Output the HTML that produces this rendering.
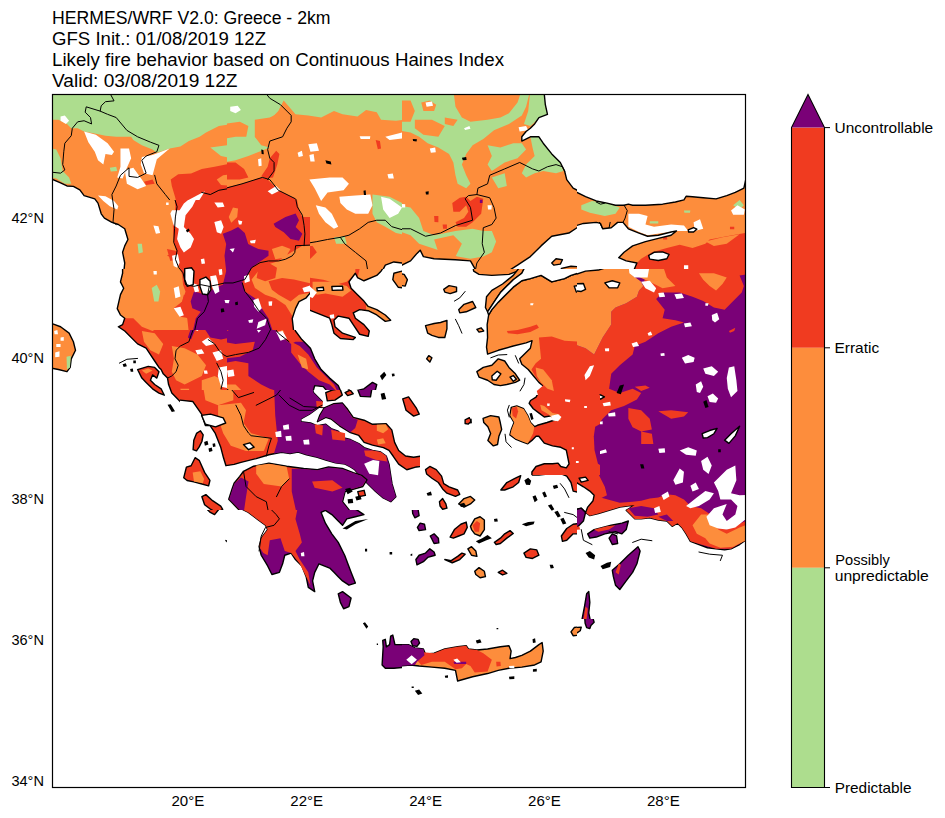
<!DOCTYPE html>
<html><head><meta charset="utf-8">
<style>
html,body{margin:0;padding:0;background:#fff;width:945px;height:818px;overflow:hidden}
svg{position:absolute;left:0;top:0}
#map path{vector-effect:non-scaling-stroke;stroke-width:1.4px}
#map path[fill="none"]{stroke-width:1px}
text{font-family:"Liberation Sans",sans-serif;fill:#000}
</style></head><body>
<svg width="945" height="818" viewBox="0 0 945 818">
<g font-size="17.5">
<text x="52" y="24.4" textLength="278.5" lengthAdjust="spacingAndGlyphs">HERMES/WRF V2.0: Greece - 2km</text>
<text x="52" y="45.2" textLength="214" lengthAdjust="spacingAndGlyphs">GFS Init.: 01/08/2019 12Z</text>
<text x="52" y="66" textLength="452" lengthAdjust="spacingAndGlyphs">Likely fire behavior based on Continuous Haines Index</text>
<text x="52" y="86.6" textLength="185.5" lengthAdjust="spacingAndGlyphs">Valid: 03/08/2019 12Z</text>
</g>
<g font-size="14.5">
<text x="11.4" y="222.7" textLength="32.5" lengthAdjust="spacingAndGlyphs">42°N</text>
<text x="11.4" y="363.4" textLength="32.5" lengthAdjust="spacingAndGlyphs">40°N</text>
<text x="11.4" y="504.1" textLength="32.5" lengthAdjust="spacingAndGlyphs">38°N</text>
<text x="11.4" y="644.8" textLength="32.5" lengthAdjust="spacingAndGlyphs">36°N</text>
<text x="11.4" y="785.5" textLength="32.5" lengthAdjust="spacingAndGlyphs">34°N</text>
<text x="171.4" y="805.6" textLength="32.8" lengthAdjust="spacingAndGlyphs">20°E</text>
<text x="290.3" y="805.6" textLength="32.8" lengthAdjust="spacingAndGlyphs">22°E</text>
<text x="409.2" y="805.6" textLength="32.8" lengthAdjust="spacingAndGlyphs">24°E</text>
<text x="528.1" y="805.6" textLength="32.8" lengthAdjust="spacingAndGlyphs">26°E</text>
<text x="647" y="805.6" textLength="32.8" lengthAdjust="spacingAndGlyphs">28°E</text>
<text x="834.5" y="133.2" textLength="98.7" lengthAdjust="spacingAndGlyphs">Uncontrollable</text>
<text x="834.5" y="353.2" textLength="44.7" lengthAdjust="spacingAndGlyphs">Erratic</text>
<text x="835.3" y="565.2" textLength="54.4" lengthAdjust="spacingAndGlyphs">Possibly</text>
<text x="834.7" y="581.3" textLength="94.1" lengthAdjust="spacingAndGlyphs">unpredictable</text>
<text x="834.7" y="793" textLength="76.9" lengthAdjust="spacingAndGlyphs">Predictable</text>
</g>
<!-- colorbar -->
<rect x="791.5" y="127.6" width="33" height="220.2" fill="#f03b20"/>
<rect x="791.5" y="347.8" width="33" height="220" fill="#fd8d3c"/>
<rect x="791.5" y="567.8" width="33" height="219.8" fill="#addd8e"/>
<path d="M791.5 127.6 L808 94.4 L824.5 127.6 Z" fill="#7a0177"/>
<path d="M791.5 787.5 L791.5 127.6 L808 94.4 L824.5 127.6 L824.5 787.5 Z" fill="none" stroke="#000" stroke-width="1.1"/>
<path d="M824.5 127.6h5.5M824.5 347.8h5.5M824.5 567.8h5.5M824.5 787.5h5.5" stroke="#000" stroke-width="1"/>
<!-- MAP -->
<svg id="map" x="52.5" y="94.5" width="693" height="693" viewBox="52.5 94.5 693 693" overflow="hidden">
<defs>
<clipPath id="c00"><rect x="52.0" y="94.0" width="175.0" height="175.0"/></clipPath>
<clipPath id="c10"><rect x="227.0" y="94.0" width="175.0" height="175.0"/></clipPath>
<clipPath id="c20"><rect x="402.0" y="94.0" width="175.0" height="175.0"/></clipPath>
<clipPath id="c30"><rect x="577.0" y="94.0" width="175.0" height="175.0"/></clipPath>
<clipPath id="c01"><rect x="52.0" y="269.0" width="175.0" height="175.0"/></clipPath>
<clipPath id="c11"><rect x="227.0" y="269.0" width="175.0" height="175.0"/></clipPath>
<clipPath id="c21"><rect x="402.0" y="269.0" width="175.0" height="175.0"/></clipPath>
<clipPath id="c31"><rect x="577.0" y="269.0" width="175.0" height="175.0"/></clipPath>
<clipPath id="c02"><rect x="52.0" y="444.0" width="175.0" height="175.0"/></clipPath>
<clipPath id="c12"><rect x="227.0" y="444.0" width="175.0" height="175.0"/></clipPath>
<clipPath id="c22"><rect x="402.0" y="444.0" width="175.0" height="175.0"/></clipPath>
<clipPath id="c32"><rect x="577.0" y="444.0" width="175.0" height="175.0"/></clipPath>
<clipPath id="c03"><rect x="52.0" y="619.0" width="175.0" height="175.0"/></clipPath>
<clipPath id="c13"><rect x="227.0" y="619.0" width="175.0" height="175.0"/></clipPath>
<clipPath id="c23"><rect x="402.0" y="619.0" width="175.0" height="175.0"/></clipPath>
<clipPath id="c33"><rect x="577.0" y="619.0" width="175.0" height="175.0"/></clipPath>
</defs>
<g stroke-linejoin="round" stroke-linecap="round">
<g clip-path="url(#c00)"><g transform="translate(52.000,94.000) scale(0.213936)"><rect x="-20" y="-20" width="858" height="858" fill="#fd8d3c"/>
<path fill="#addd8e" d="M-20,-20 L838,-20 L838,140 L780,150 L720,180 L690,200 L640,220 L600,245 L550,255 L490,275 L470,260 L420,240 L380,215 L370,200 L300,200 L250,195 L200,185 L150,175 L120,160 L90,160 L70,140 L30,120 L-20,120 Z"/>
<path fill="#addd8e" d="M-20,250 L20,260 L40,300 L50,360 L80,390 L90,420 L60,420 L20,395 L-20,390 Z M740,250 L818,240 L838,240 L838,300 L790,290 Z M270,345 L300,340 L305,360 L275,362 Z M400,700 L420,700 L425,740 L405,745 Z"/>
<path fill="#f03b20" d="M555,400 L590,375 L650,372 L700,350 L760,340 L838,325 L838,838 L590,838 L590,760 L540,760 L570,740 L580,720 L600,700 L600,640 L580,600 L590,540 L575,480 L560,430 Z M430,410 L470,400 L480,420 L440,425 Z"/>
<path fill="#fd8d3c" d="M770,400 L800,380 L838,375 L838,430 L790,425 Z"/>
<path fill="#7a0177" d="M790,585 L818,580 L838,580 L838,610 L800,600 Z M800,650 L838,640 L838,690 L805,680 Z M800,760 L838,740 L838,810 L805,800 Z"/>
<path fill="#fff" d="M40,105 L60,100 L80,125 L65,140 L40,125 Z M150,175 L205,190 L260,230 L290,270 L280,285 L250,280 L240,330 L215,310 L200,270 L170,225 Z M320,255 L360,255 L370,300 L350,345 L330,395 L305,390 L320,340 Z M340,355 L380,345 L420,400 L440,430 L400,445 L350,420 Z M420,295 L470,285 L550,255 L490,305 L470,380 L430,370 L415,330 Z M560,545 L620,505 L715,455 L680,510 L650,560 L660,620 L650,700 L620,740 L600,720 L590,660 L570,620 Z M480,620 L500,615 L505,650 L485,655 Z M760,600 L800,595 L805,640 L780,650 Z M215,475 L250,478 L290,500 L310,525 L305,540 L270,525 L240,500 Z"/>
<path fill="#fff" stroke="#000" d="M-20,395 L0,398 L40,415 L70,430 L100,432 L130,448 L150,475 L200,490 L215,510 L230,560 L245,580 L280,600 L310,610 L340,630 L355,680 L340,710 L330,740 L340,790 L335,838 L-20,838 Z"/>
<path fill="none" stroke="#000" d="M270,-5 L290,32 L250,36 L230,55 L225,80 L260,95 L300,110 L350,170 L400,200 L460,225 L500,240 L490,270 L440,290 L420,310 L440,370 L400,390 L360,385 L360,345 L320,380 L300,430 L280,470 L290,540 L285,600 L300,610 M225,80 L160,60 L155,85 L180,110 L185,140 L150,125 L120,130 L95,160 L90,195 L60,230 L55,270 L50,330 L60,355 L40,370 L-5,365 M480,380 L490,420 L530,470 L570,520 L590,560 L580,600 L570,640 L580,700 L590,760 L580,838 M700,460 L740,470 L780,450 L838,440"/>
</g></g>
<g clip-path="url(#c10)"><g transform="translate(227.000,94.000) scale(0.213936)"><rect x="-20" y="-20" width="858" height="858" fill="#fd8d3c"/>
<path fill="#addd8e" d="M-20,-20 L838,-20 L838,120 L790,125 L720,120 L700,85 L650,75 L610,105 L540,95 L500,80 L440,110 L380,100 L320,95 L290,60 L265,30 L240,80 L215,105 L160,140 L130,200 L160,240 L200,250 L150,270 L100,290 L40,310 L-20,320 Z M680,470 L760,480 L818,510 L838,520 L838,660 L790,650 L740,620 L700,600 L680,560 Z M500,670 L550,665 L560,700 L510,700 Z"/>
<path fill="#fd8d3c" d="M-20,140 L60,130 L100,150 L90,200 L40,200 L-20,210 Z M130,120 L200,110 L240,90 L250,60 L270,45 L300,100 L260,150 L240,180 L160,230 L130,200 Z"/>
<path fill="#f03b20" d="M-20,440 L70,420 L160,390 L190,400 L240,450 L320,490 L350,540 L360,600 L365,700 L330,720 L300,745 L250,770 L200,780 L160,790 L140,838 L-20,838 Z M-20,320 L40,320 L80,350 L100,390 L60,400 L-20,400 Z M200,300 L230,265 L245,280 L235,330 L215,390 L180,395 L160,385 L190,340 Z M330,710 L400,710 L420,740 L390,770 L340,760 Z M695,215 L715,220 L720,255 L705,258 Z"/>
<path fill="#fd8d3c" d="M10,540 L50,530 L45,590 L15,600 Z M200,720 L260,700 L300,720 L270,760 L210,770 Z"/>
<path fill="#7a0177" d="M-20,650 L40,620 L60,650 L100,650 L150,660 L180,700 L205,740 L170,780 L120,810 L100,838 L-20,838 Z M220,600 L270,580 L300,560 L330,570 L350,590 L355,640 L340,680 L300,690 L270,650 L230,625 Z"/>
<path fill="#fff" d="M385,400 L480,390 L540,390 L570,420 L545,450 L470,460 L440,500 L410,440 Z M525,480 L600,475 L670,470 L680,520 L660,560 L600,560 L560,540 L530,510 Z M415,520 L460,530 L490,560 L520,620 L500,630 L460,600 L430,560 Z M720,480 L760,490 L818,530 L800,560 L760,580 L730,540 Z M380,235 L420,230 L430,265 L390,270 Z M385,285 L405,280 L410,315 L390,315 Z M330,275 L350,265 L355,290 L335,295 Z M740,200 L800,185 L838,175 L838,205 L760,215 Z M620,198 L670,198 L668,210 L625,210 Z M15,60 L50,55 L65,75 L40,90 L15,80 Z M190,455 L230,430 L250,450 L210,470 Z M145,305 L160,300 L162,335 L148,338 Z M750,375 L775,372 L780,395 L755,395 Z"/>
<path fill="#fff" stroke="#000" d="M720,838 L740,800 L780,785 L818,790 L838,795 L838,838 Z"/>
<path fill="#000" d="M160,260 L170,262 L172,282 L162,280 Z M460,310 L485,315 L488,330 L465,325 Z M638,452 L648,450 L650,472 L640,472 Z"/>
<path fill="none" stroke="#000" d="M180,-5 L200,20 L250,50 L280,80 L300,100 L300,130 L280,160 L260,200 L200,220 L190,260 L200,300 L220,320 L220,360 L190,400 M-5,440 L70,420 L165,390 L200,400 L240,450 L320,490 L350,530 L360,580 L360,700 L320,710 L310,750 L280,770 L240,780 L200,790 L130,800 L100,838 M360,700 L420,690 L470,680 L530,670 L570,660 L620,630 L660,600 L700,590 L740,590 L770,620 L838,640 M530,670 L550,700 L600,740 L650,780 L660,838"/>
</g></g>
<g clip-path="url(#c20)"><g transform="translate(402.000,94.000) scale(0.213936)"><rect x="-20" y="-20" width="858" height="858" fill="#fd8d3c"/>
<path fill="#addd8e" d="M-20,-20 L240,-20 L250,60 L280,110 L320,130 L400,120 L460,110 L500,90 L540,40 L560,-20 L600,-20 L580,60 L560,100 L500,140 L430,170 L380,210 L330,240 L300,280 L280,330 L300,380 L320,420 L300,440 L260,420 L250,380 L240,320 L220,280 L170,250 L120,230 L80,200 L40,180 L-20,170 Z M600,-20 L665,-20 L670,60 L680,95 L640,115 L600,150 L570,140 L590,80 Z M600,200 L640,200 L700,280 L740,320 L755,360 L720,370 L660,360 L620,370 L580,390 L560,370 L580,330 L620,290 L610,250 Z M420,390 L480,370 L490,430 L450,440 Z M400,240 L460,250 L520,230 L560,230 L580,260 L540,300 L480,320 L420,360 L400,330 L420,290 Z M-20,520 L40,530 L80,580 L100,640 L150,660 L250,640 L330,630 L380,640 L420,640 L440,690 L420,740 L380,760 L320,770 L260,760 L200,740 L140,720 L80,700 L40,660 L-20,640 Z"/>
<path fill="#fd8d3c" d="M-20,30 L40,30 L60,80 L40,130 L-20,130 Z M90,40 L130,30 L160,50 L150,80 L100,80 Z M60,120 L140,120 L200,150 L170,200 L100,190 L60,160 Z M200,110 L260,120 L240,150 L200,140 Z M150,680 L240,660 L280,700 L250,760 L170,740 Z"/>
<path fill="#f03b20" d="M235,510 L270,485 L300,480 L320,500 L350,480 L380,490 L370,560 L330,600 L300,620 L260,620 L250,600 L290,580 L310,550 L300,520 L270,550 L240,550 Z M150,570 L170,570 L170,600 L152,598 Z M190,610 L210,610 L210,630 L192,630 Z"/>
<path fill="#7a0177" d="M364,494 L376,494 L376,510 L364,510 Z"/>
<path fill="#fff" d="M110,40 L140,35 L145,55 L115,60 Z M290,160 L315,150 L320,162 L295,168 Z M130,255 L155,250 L158,272 L135,275 Z M545,155 L580,150 L590,170 L550,175 Z M-20,512 L15,515 L15,530 L-20,530 Z M400,520 L420,520 L418,540 L402,540 Z"/>
<path fill="#fff" stroke="#000" d="M665,-20 L665,0 L670,50 L680,95 L640,110 L620,140 L600,160 L580,175 L560,200 L560,220 L600,200 L640,200 L660,230 L700,280 L740,320 L760,360 L770,400 L800,440 L838,460 L838,-20 Z M-20,838 L-20,810 L0,800 L40,780 L70,745 L85,730 L100,760 L150,770 L250,775 L320,780 L340,815 L345,838 Z M480,838 L540,800 L600,760 L650,710 L700,665 L780,650 L818,625 L838,620 L838,838 Z"/>
<path fill="#fd8d3c" stroke="#000" d="M700,790 L720,770 L750,775 L740,795 L710,800 Z M745,815 L790,805 L838,808 L838,838 L745,838 Z"/>
<path fill="#000" d="M50,210 L70,212 L68,222 L52,220 Z M280,298 L300,294 L302,308 L284,310 Z M110,457 L125,455 L124,470 L112,470 Z"/>
<path fill="none" stroke="#000" d="M-5,630 L40,630 L110,665 L180,650 L250,615 L330,590 L320,530 L295,490 L310,475 L350,470 L410,485 L430,530 L440,580 L420,610 L380,625 L375,700 L385,740 L350,790 L340,838 M350,470 L355,440 L400,420 L410,380 L480,350 L550,320 L610,350 L640,360 L680,340 L720,330 L750,340 L760,360"/>
</g></g>
<g clip-path="url(#c30)"><g transform="translate(577.000,94.000) scale(0.213936)"><rect x="-20" y="-20" width="858" height="858" fill="#fd8d3c"/>
<path fill="#addd8e" d="M20,520 L70,500 L140,510 L200,530 L180,560 L130,570 L60,555 L20,540 Z M730,520 L760,495 L780,520 L760,540 Z M500,545 L530,545 L528,555 L502,555 Z M340,595 L380,595 L380,605 L340,605 Z"/>
<path fill="#f03b20" d="M260,838 L280,790 L300,770 L350,740 L420,720 L480,705 L540,720 L600,700 L620,680 L700,665 L785,650 L838,640 L838,838 Z M400,660 L420,658 L422,680 L402,680 Z M715,620 L735,620 L735,632 L715,632 Z"/>
<path fill="#fd8d3c" d="M600,690 L680,670 L760,655 L700,700 L640,710 Z"/>
<path fill="#fff" d="M240,560 L290,560 L330,570 L320,610 L360,620 L440,610 L500,615 L520,640 L470,640 L400,650 L330,660 L290,645 L240,620 Z M545,600 L575,585 L590,630 L550,640 Z M720,545 L750,520 L785,540 L780,565 L730,565 Z M500,800 L520,800 L520,818 L500,818 Z"/>
<path fill="#fff" stroke="#000" d="M-20,-20 L838,-20 L838,390 L790,395 L780,440 L740,460 L700,475 L650,490 L590,485 L540,480 L510,478 L500,495 L460,505 L400,515 L320,520 L260,520 L240,515 L220,520 L180,520 L140,510 L90,500 L40,480 L0,460 L-20,455 Z M-20,620 L30,605 L90,600 L110,605 L120,630 L160,625 L190,600 L215,600 L240,630 L290,650 L330,665 L380,660 L440,645 L465,640 L440,660 L380,675 L320,690 L260,710 L220,740 L195,765 L230,780 L280,790 L260,838 L-20,838 Z M335,755 L360,740 L400,738 L430,750 L420,770 L380,778 L340,772 Z M520,635 L545,625 L560,632 L545,645 L522,645 Z"/>
<path fill="none" stroke="#000" d="M220,520 L235,545 L225,580 L215,600 M90,505 L110,515 L130,510 M120,630 L105,600 M150,625 L155,600"/>
</g></g>
<g clip-path="url(#c01)"><g transform="translate(52.000,269.000) scale(0.213936)"><rect x="-20" y="-20" width="858" height="858" fill="#f03b20"/>
<path fill="#fd8d3c" d="M300,-20 L660,-20 L660,60 L620,90 L600,110 L620,160 L600,200 L560,230 L520,260 L470,290 L420,270 L380,230 L340,230 L300,240 Z M560,360 L620,370 L680,400 L720,450 L700,500 L660,520 L620,540 L580,520 L560,480 L570,420 Z M420,290 L480,300 L520,350 L500,400 L460,380 L430,340 Z M700,520 L760,500 L800,520 L780,600 L740,640 L700,620 Z M600,560 L640,560 L650,600 L610,610 Z M740,560 L770,570 L760,620 L730,610 Z"/>
<path fill="#addd8e" d="M465,80 L490,70 L510,100 L500,150 L485,160 L470,120 Z"/>
<path fill="#7a0177" d="M640,210 L690,150 L740,110 L800,40 L838,30 L838,320 L790,330 L740,320 L720,290 L690,250 L670,280 L650,330 L635,320 L655,260 Z"/>
<path fill="#fff" d="M565,90 L580,80 L600,110 L595,140 L570,135 Z M570,185 L600,180 L620,210 L600,222 L575,210 Z M470,12 L492,10 L492,25 L472,25 Z M620,-20 L660,-20 L665,60 L640,70 L620,40 Z M690,50 L720,40 L745,80 L740,130 L700,120 L680,90 Z M740,30 L780,35 L785,60 L750,62 Z M665,230 L690,220 L700,270 L680,290 L660,280 Z M700,340 L730,320 L760,350 L720,360 Z M670,380 L700,375 L712,395 L680,400 Z M750,390 L790,380 L800,420 L770,430 Z M780,460 L838,450 L838,560 L790,550 L775,500 Z M710,475 L725,475 L728,490 L712,490 Z M770,0 L800,0 L800,25 L775,25 Z"/>
<path fill="#fff" stroke="#000" d="M700,690 L740,680 L800,680 L838,700 L800,725 L740,730 L700,720 Z M700,790 L730,770 L760,800 L740,838 L700,838 Z"/>
<path fill="#fff" stroke="#000" d="M330,-20 L330,20 L320,60 L335,90 L320,120 L305,185 L320,215 L340,230 L330,260 L310,270 L340,290 L400,350 L440,370 L460,400 L480,430 L500,460 L510,470 L520,490 L540,510 L545,540 L560,580 L600,620 L640,650 L680,670 L700,700 L710,740 L690,770 L670,800 L670,838 L-20,838 L-20,-20 Z"/>
<path fill="#f03b20" stroke="#000" d="M400,470 L450,455 L480,460 L500,480 L490,510 L470,495 L460,520 L480,540 L510,560 L525,590 L500,580 L470,560 L440,530 L420,510 Z"/>
<path fill="#fd8d3c" d="M420,475 L450,465 L470,475 L440,490 Z"/>
<path fill="#fd8d3c" stroke="#000" d="M-20,250 L0,255 L40,270 L80,300 L100,340 L110,380 L90,420 L85,460 L70,480 L30,470 L-20,460 Z"/>
<path fill="#addd8e" d="M68,410 L88,405 L84,460 L70,470 Z"/>
<path fill="#fff" d="M10,290 L25,285 L28,305 L12,305 Z M40,320 L55,318 L55,335 L40,335 Z M15,390 L35,385 L35,410 L15,412 Z M20,350 L40,350 L40,365 L20,365 Z"/>
<path fill="#000" d="M330,445 L345,440 L350,455 L335,458 Z M365,468 L378,465 L380,480 L368,480 Z M540,635 L555,632 L575,665 L560,668 Z M380,428 L392,428 L392,440 L380,440 Z"/>
<path fill="none" stroke="#000" d="M315,440 L350,422 L400,418 M605,-5 L620,20 L640,60 L660,80 L700,110 L740,130 L760,150 L740,170 L720,200 L700,210 L680,240 L665,270 L650,310 L640,340 L600,360 L580,380 L575,420 L590,450 L580,480 L560,500 L540,510 M680,-20 L690,40 L720,80 L745,110 M730,330 L760,350 L780,380 L800,400 L838,420 M770,440 L790,480 L800,520 L790,560"/>
</g></g>
<g clip-path="url(#c11)"><g transform="translate(227.000,269.000) scale(0.213936)"><rect x="-20" y="-20" width="858" height="858" fill="#7a0177"/>
<path fill="#f03b20" d="M90,-20 L838,-20 L838,340 L320,340 L300,350 L260,320 L220,280 L190,230 L150,170 L120,100 L100,40 Z M-20,340 L40,350 L130,340 L120,380 L60,410 L-20,420 Z M-20,440 L40,430 L100,440 L100,500 L160,540 L200,560 L260,580 L300,620 L330,660 L300,680 L250,700 L200,720 L180,760 L140,838 L-20,838 Z M300,340 L340,360 L380,400 L420,460 L460,500 L500,540 L520,580 L480,540 L430,520 L380,480 L340,440 L300,390 Z M400,720 L450,740 L520,760 L600,790 L640,838 L400,838 Z M620,700 L700,720 L838,740 L838,838 L620,838 Z M0,200 L20,210 L18,280 L0,290 Z"/>
<path fill="#fd8d3c" d="M140,30 L230,20 L280,-20 L600,-20 L600,20 L560,60 L520,70 L450,50 L380,40 L300,40 L260,70 L240,100 L200,90 L150,70 Z M100,80 L150,60 L200,110 L230,150 L210,190 L240,250 L270,300 L230,270 L190,220 L150,170 L120,120 Z M400,60 L480,60 L560,80 L580,100 L540,130 L460,115 L420,120 L400,100 Z M-20,540 L40,540 L80,580 L100,640 L150,680 L120,740 L60,760 L-20,760 Z M700,740 L780,750 L838,760 L838,838 L700,838 Z M330,400 L370,420 L380,470 L350,460 Z M620,0 L740,-20 L720,10 L700,30 L640,55 L610,40 Z M650,160 L700,185 L765,240 L740,250 L690,210 L650,190 Z"/>
<path fill="#fff" d="M130,135 L160,140 L170,190 L150,195 L130,170 Z M78,-20 L100,-20 L98,50 L80,48 Z M140,285 L175,250 L180,262 L148,298 Z M230,295 L260,290 L280,325 L250,335 Z M340,95 L380,75 L420,110 L400,135 L360,120 Z M480,215 L500,212 L502,230 L482,232 Z M0,475 L30,470 L35,500 L5,505 Z M260,730 L290,725 L292,760 L262,760 Z M230,760 L250,755 L255,790 L235,790 Z M270,780 L295,775 L300,810 L275,812 Z M200,150 L215,148 L218,170 L202,170 Z M100,235 L120,238 L112,250 Z M300,690 L320,685 L322,700 L302,702 Z"/>
<path fill="#fff" stroke="#000" d="M838,-20 L740,-20 L720,10 L700,30 L640,55 L610,40 L600,20 L570,60 L580,90 L610,120 L640,150 L660,175 L700,190 L740,215 L765,240 L740,245 L700,215 L660,195 L620,190 L590,205 L600,230 L640,260 L665,290 L660,315 L620,305 L590,260 L570,230 L520,220 L500,240 L505,270 L540,300 L600,320 L590,330 L530,325 L500,300 L490,260 L480,230 L430,210 L380,190 L360,170 L380,140 L370,120 L340,130 L330,160 L310,175 L300,200 L310,240 L320,290 L350,330 L390,370 L410,420 L440,470 L480,510 L520,545 L535,580 L510,610 L470,610 L475,580 L450,550 L410,545 L400,580 L430,610 L470,640 L560,650 L640,690 L720,720 L780,740 L838,745 Z M350,705 L380,690 L430,700 L480,712 L540,735 L590,760 L625,800 L605,815 L560,792 L500,762 L440,735 L380,722 Z M420,88 L450,85 L452,100 L422,102 Z M490,82 L540,80 L542,98 L492,100 Z"/>
<path fill="#fd8d3c" stroke="#000" d="M780,20 L818,10 L838,10 L838,90 L800,85 L775,50 Z"/><path fill="#f03b20" stroke="#000" d="M550,575 L570,565 L590,580 L570,595 L552,592 Z"/>
<path fill="#7a0177" stroke="#000" d="M600,570 L640,560 L680,530 L700,540 L690,580 L650,600 L615,600 Z"/>
<path fill="#000" d="M715,500 L735,480 L745,495 L725,520 Z M770,490 L782,488 L784,500 L772,502 Z M800,655 L812,655 L812,668 L800,668 Z M700,595 L715,590 L718,605 L702,608 Z M730,580 L740,578 L742,600 L732,602 Z M40,155 L52,152 L50,168 L40,168 Z"/>
<path fill="none" stroke="#000" d="M110,-5 L80,50 L100,110 L130,150 L160,210 L210,260 L240,300 L290,340 M-5,410 L40,400 L100,390 L150,370 L180,330 L200,290 L210,270 M-5,560 L30,580 L60,620 L100,630 L140,640 L190,620 L240,590 L270,600 L310,640 L350,650 L420,650 L450,660 M40,680 L70,720 L100,760 L110,838 M240,590 L230,640 L200,680 L180,720 L170,780 L160,838"/>
</g></g>
<g clip-path="url(#c21)"><g transform="translate(402.000,269.000) scale(0.213936)"><rect x="-20" y="-20" width="858" height="858" fill="#fff"/>
<g fill="#fd8d3c" stroke="#000">
<path d="M330,-20 L560,-20 L540,10 L500,25 L420,30 L360,25 L335,10 Z"/>
<path d="M560,-20 L580,-20 L560,20 L520,50 L490,80 L460,110 L440,140 L420,170 L400,200 L390,180 L395,130 L420,100 L470,70 L520,30 Z"/>
<path d="M838,15 L790,30 L760,45 L700,60 L650,30 L600,45 L560,55 L520,85 L480,125 L450,155 L420,190 L405,215 L398,260 L400,320 L395,365 L400,398 L450,380 L520,360 L580,345 L608,335 L600,370 L575,395 L550,420 L560,445 L590,470 L615,500 L640,530 L665,550 L645,585 L615,610 L625,640 L660,670 L700,680 L730,690 L710,705 L670,710 L640,730 L620,710 L600,690 L590,720 L610,760 L640,800 L660,838 L838,838 Z"/>
<path d="M350,480 L380,460 L420,450 L450,420 L480,430 L500,460 L530,490 L550,520 L530,530 L490,540 L460,545 L430,540 L400,520 L360,505 Z"/>
<path d="M110,265 L150,255 L180,250 L210,240 L210,280 L200,320 L170,320 L140,310 L120,300 Z"/>
<path d="M195,95 L220,78 L255,85 L255,105 L225,115 L200,108 Z"/>
<path d="M265,190 L290,165 L330,152 L345,180 L300,200 L270,205 Z"/>
<path d="M350,282 L370,275 L382,290 L360,295 Z"/>
<path d="M115,420 L125,405 L140,415 L130,435 Z"/>
<path d="M-20,20 L10,25 L25,50 L15,80 L-20,75 Z"/>
<path d="M380,700 L420,685 L460,695 L470,740 L450,780 L430,838 L400,838 L390,760 L380,720 Z"/>
<path d="M510,650 L540,645 L570,670 L590,710 L600,740 L580,780 L560,838 L500,838 L520,780 L500,760 L490,720 L510,690 Z"/>
</g>
<path fill="#f03b20" d="M640,320 L700,315 L760,335 L838,340 L838,838 L660,838 L630,790 L610,760 L640,730 L680,710 L730,695 L690,660 L645,620 L630,570 L660,545 L625,505 L605,470 L625,440 L650,420 Z M490,290 L540,285 L600,270 L630,260 L640,275 L600,295 L540,305 L495,300 Z M515,655 L545,650 L575,690 L560,700 L530,690 Z"/>
<path fill="#fd8d3c" d="M625,460 L660,470 L700,520 L710,570 L680,560 L650,530 L630,500 Z"/>
<path fill="#fff" stroke="#000" d="M420,500 L445,478 L462,490 L440,520 L422,518 Z M505,505 L520,498 L535,515 L520,525 Z M580,-20 L838,-20 L838,15 L790,30 L760,45 L700,60 L650,30 L600,45 L560,55 L520,85 L480,125 L450,155 L420,190 L405,215 L400,200 L420,170 L440,140 L460,110 L490,80 L520,50 L560,20 Z M805,80 L838,75 L838,110 L815,108 Z"/>
<path fill="#f03b20" stroke="#000" d="M5,610 L30,620 L60,640 L75,665 L50,680 L20,660 L5,640 Z M295,705 L315,695 L325,710 L310,725 L295,722 Z"/>
<path fill="#fff" d="M600,160 L615,160 L612,170 L600,170 Z M750,600 L790,610 L780,625 L760,620 Z M720,670 L750,675 L745,700 L720,700 Z"/>
<path fill="none" stroke="#000" d="M245,150 L270,135 L295,105 M250,235 L265,265 L280,300 M415,415 L450,402 L490,400 M575,510 L570,540 L552,570 M500,640 L490,700 L485,760 L480,838 M530,405 L545,440"/>
</g></g>
<g clip-path="url(#c31)"><g transform="translate(577.000,269.000) scale(0.213936)"><rect x="-20" y="-20" width="858" height="858" fill="#7a0177"/>
<path fill="#f03b20" d="M-20,350 L40,370 L80,400 L100,360 L120,320 L160,260 L160,200 L180,180 L230,160 L280,130 L290,100 L310,80 L330,-20 L838,-20 L838,20 L760,30 L780,80 L770,110 L720,160 L690,190 L640,180 L590,150 L540,130 L480,110 L400,110 L370,140 L410,190 L400,230 L460,240 L500,250 L440,270 L380,300 L320,340 L270,360 L260,400 L200,450 L160,490 L150,560 L200,580 L260,560 L300,580 L280,610 L220,640 L160,660 L120,700 L90,740 L80,838 L-20,838 Z M240,650 L300,660 L340,700 L350,750 L300,760 L260,740 L240,700 Z M380,665 L440,660 L520,670 L500,690 L440,700 Z M270,550 L320,545 L340,555 L300,570 Z M300,760 L350,770 L360,838 L300,838 Z M710,290 L740,275 L735,290 L715,298 Z"/>
<path fill="#fd8d3c" d="M-20,-20 L240,-20 L260,30 L300,60 L310,80 L290,100 L280,130 L230,160 L180,180 L160,200 L160,260 L120,320 L100,360 L80,400 L40,370 L-20,350 Z M570,20 L640,20 L700,40 L680,70 L650,100 L620,80 L590,50 Z M250,20 L330,-20 L400,-20 L420,40 L460,80 L400,90 L340,60 Z"/>
<path fill="#fff" d="M240,-20 L340,-20 L330,40 L270,40 L245,20 Z M300,60 L340,55 L370,90 L360,110 L320,90 Z M380,112 L405,110 L412,130 L385,132 Z M455,118 L490,115 L500,135 L465,140 Z M630,215 L655,205 L665,235 L645,250 L632,240 Z M500,255 L530,250 L537,268 L505,272 Z M255,348 L280,340 L290,360 L262,365 Z M330,300 L345,292 L352,308 L335,312 Z M390,395 L408,393 L410,405 L392,407 Z M490,415 L520,402 L550,415 L545,435 L505,442 Z M590,465 L630,455 L660,480 L640,500 L600,490 Z M710,460 L735,455 L745,520 L750,570 L720,600 L705,560 L700,510 Z M555,540 L580,525 L590,550 L575,580 L560,575 Z M610,595 L635,582 L660,605 L650,625 L620,622 Z M35,495 L60,455 L80,450 L60,500 L40,520 Z M120,628 L155,620 L158,638 L125,642 Z M145,675 L178,670 L180,688 L148,690 Z M100,715 L120,712 L120,726 L102,726 Z M130,372 L150,370 L150,385 L132,385 Z M600,160 L615,160 L612,172 L600,172 Z"/>
<path fill="#fff" stroke="#000" d="M-20,30 L40,10 L100,5 L180,-20 L-20,-20 Z M130,65 L165,55 L200,65 L190,88 L150,88 Z M-20,70 L30,68 L40,95 L20,105 L-20,100 Z M90,598 L110,588 L128,598 L110,608 Z M585,770 L620,755 L655,745 L640,770 L610,788 L590,790 Z M690,800 L720,770 L760,735 L740,780 L710,815 Z"/>
<path fill="#000" d="M185,580 L200,545 L220,540 L205,585 Z M590,620 L605,612 L615,645 L600,650 Z"/>
</g></g>
<g clip-path="url(#c02)"><g transform="translate(52.000,444.000) scale(0.213936)"><rect x="-20" y="-20" width="858" height="858" fill="#fff"/>
<path fill="#f03b20" stroke="#000" d="M615,160 L630,110 L650,100 L665,60 L680,70 L690,120 L720,140 L740,165 L740,190 L700,190 L660,180 L640,170 Z M685,55 L700,50 L720,90 L715,110 L700,100 L685,80 Z M700,245 L715,235 L730,255 L760,270 L790,290 L800,300 L780,305 L760,330 L740,320 L720,300 L700,275 Z M655,30 L670,0 L710,-20 L838,-20 L838,120 L810,110 L800,80 L790,50 L770,30 L740,35 L710,30 L680,30 Z"/>
<path fill="#fd8d3c" d="M655,145 L690,140 L720,165 L730,188 L690,185 L665,170 Z"/>
<path fill="#000" d="M695,25 L708,25 L708,38 L695,38 Z M728,45 L740,45 L740,58 L728,58 Z M808,448 L820,450 L815,460 Z"/>
</g></g>
<g clip-path="url(#c12)"><g transform="translate(227.000,444.000) scale(0.213936)"><rect x="-20" y="-20" width="858" height="858" fill="#fff"/>
<path fill="#7a0177" stroke="#000" d="M-20,-20 L838,-20 L838,130 L810,120 L800,170 L790,210 L780,240 L760,250 L740,230 L700,200 L680,160 L640,170 L600,180 L560,175 L520,190 L490,175 L470,165 L440,150 L400,130 L360,110 L330,60 L300,40 L260,40 L200,60 L130,80 L60,100 L-20,95 Z"/>
<path fill="#f03b20" d="M-20,-20 L300,-20 L290,40 L260,40 L200,60 L130,80 L60,100 L-20,95 Z M640,30 L700,25 L740,40 L760,80 L760,140 L730,120 L690,100 L650,60 Z"/>
<path fill="#fd8d3c" d="M130,-20 L220,-20 L210,20 L150,30 Z"/>
<path fill="#fff" d="M640,90 L700,80 L720,130 L700,180 L660,170 L640,130 Z M600,-20 L838,-20 L838,20 L780,40 L720,10 L640,10 Z"/>
<path fill="#7a0177" stroke="#000" d="M0,230 L20,210 L60,180 L70,140 L120,130 L170,100 L230,85 L300,120 L350,130 L420,150 L470,175 L500,190 L530,220 L540,260 L570,290 L610,310 L640,330 L600,340 L560,350 L540,380 L520,360 L490,330 L460,310 L440,320 L460,370 L490,420 L520,460 L550,520 L580,600 L600,650 L570,660 L540,640 L520,620 L500,600 L480,580 L430,560 L410,600 L400,640 L410,690 L380,670 L370,620 L350,570 L320,540 L300,510 L270,520 L260,560 L245,600 L210,610 L190,570 L160,520 L150,480 L160,440 L190,400 L180,380 L140,350 L100,320 L60,300 L20,260 Z M520,700 L540,690 L580,720 L570,760 L545,770 L530,740 Z"/>
<path fill="#f03b20" d="M70,180 L70,140 L120,130 L170,100 L230,85 L300,120 L320,140 L310,200 L320,260 L330,300 L320,350 L340,420 L350,460 L320,500 L340,540 L380,600 L390,660 L370,620 L340,560 L300,510 L270,500 L250,440 L200,450 L190,520 L170,510 L150,480 L160,440 L190,400 L180,380 L140,350 L100,320 L60,300 L80,250 L100,190 Z M400,180 L450,175 L500,195 L530,220 L540,260 L500,240 L440,210 Z"/>
<path fill="#fd8d3c" d="M140,140 L200,100 L260,110 L290,140 L280,190 L300,220 L270,240 L240,230 L200,220 L170,210 L150,180 Z M190,240 L230,240 L230,260 L200,270 Z"/>
<path fill="#fff" d="M280,180 L295,175 L300,195 L282,198 Z M335,190 L350,185 L352,200 L338,202 Z M345,510 L360,505 L362,525 L347,525 Z"/>
<path fill="#f03b20" stroke="#000" d="M610,230 L640,220 L645,240 L625,252 Z"/>
<path fill="#000" d="M560,210 L575,205 L578,220 L562,222 Z M580,240 L595,235 L598,250 L582,252 Z M560,260 L575,255 L578,270 L562,272 Z M600,265 L615,262 L618,278 L602,280 Z M740,295 L755,292 L758,305 L742,308 Z M645,490 L655,490 L655,502 L645,502 Z M760,505 L772,505 L772,516 L760,516 Z M540,395 L600,360 L660,350 L600,375 L560,400 Z"/>
<path fill="none" stroke="#000" d="M190,240 L200,300 L230,330 L245,350 L220,380 L180,390 L160,430 L150,500 M200,240 L250,230 L300,220 L310,200"/>
</g></g>
<g clip-path="url(#c22)"><g transform="translate(402.000,444.000) scale(0.213936)"><rect x="-20" y="-20" width="858" height="858" fill="#fff"/>
<path fill="#f03b20" stroke="#000" d="M-20,60 L40,60 L75,65 L80,100 L70,130 L40,120 L10,125 L-20,120 Z M110,120 L130,105 L160,120 L185,150 L195,185 L220,200 L260,215 L270,235 L250,245 L210,230 L190,210 L170,180 L140,160 L115,140 Z M175,270 L190,255 L205,280 L210,300 L190,305 L178,290 Z M225,435 L245,400 L275,375 L300,365 L305,390 L290,420 L265,430 L240,440 Z M432,460 L460,440 L480,420 L505,405 L520,418 L490,440 L460,465 L440,470 Z M200,540 L230,545 L260,525 L280,510 L295,515 L270,540 L235,555 Z M450,600 L470,590 L490,605 L470,612 Z M570,510 L600,490 L630,495 L640,520 L610,535 L580,530 Z M462,215 L490,180 L530,160 L555,148 L545,180 L520,200 L480,215 Z M600,130 L640,100 L700,90 L730,100 L760,80 L770,40 L740,0 L660,-20 L838,-20 L838,230 L800,220 L790,180 L770,150 L720,130 L680,140 L640,145 L610,145 Z M745,430 L770,395 L800,375 L838,370 L838,420 L800,420 L770,450 L750,455 Z"/>
<path fill="#fd8d3c" stroke="#000" d="M265,280 L290,255 L320,245 L340,262 L320,280 L290,295 Z M320,385 L340,350 L365,340 L385,355 L385,400 L365,430 L340,420 L325,400 Z M308,490 L325,480 L345,500 L350,525 L325,520 Z M340,595 L360,578 L385,595 L390,620 L365,625 L345,610 Z M420,-20 L445,-20 L445,12 L425,10 Z"/>
<path fill="#f03b20" d="M330,380 L350,360 L365,370 L360,410 L340,410 Z"/>
<path fill="#7a0177" stroke="#000" d="M15,240 L30,220 L50,225 L50,255 L30,275 L18,265 Z M48,300 L60,280 L75,305 L80,335 L60,345 L50,325 Z M72,390 L85,370 L105,375 L110,400 L80,405 Z M132,430 L150,420 L170,440 L172,462 L150,465 L140,445 Z M65,540 L80,520 L110,510 L130,490 L150,505 L155,520 L120,530 L100,550 L70,565 Z"/>
<path fill="#7a0177" d="M50,80 L65,78 L68,100 L52,100 Z"/>
<path fill="#000" d="M655,228 L668,222 L678,245 L665,250 Z M682,288 L698,282 L712,305 L700,312 Z M712,318 L728,312 L742,338 L728,344 Z M740,350 L755,345 L768,372 L752,376 Z M572,170 L590,158 L604,172 L598,192 L580,190 Z M610,245 L624,240 L634,262 L620,272 Z M115,230 L135,222 L140,240 L120,242 Z M430,350 L445,348 L448,362 L432,364 Z M560,375 L590,365 L620,362 L615,375 L580,385 Z M345,455 L375,440 L400,425 L420,440 L395,450 L360,465 Z M40,515 L48,512 L48,522 L40,522 Z M690,565 L705,565 L710,580 L695,582 Z M705,195 L725,190 L730,205 L710,210 Z M-20,85 L5,85 L5,115 L-20,115 Z M270,280 L290,275 L300,290 L275,295 Z"/>
<path fill="none" stroke="#000" d="M740,185 L760,210 L780,250 M760,320 L800,330 L820,345 M490,0 L510,12"/>
</g></g>
<g clip-path="url(#c32)"><g transform="translate(577.000,444.000) scale(0.213936)"><rect x="-20" y="-20" width="858" height="858" fill="#fff"/>
<path fill="#7a0177" stroke="#000" d="M-20,-20 L838,-20 L838,450 L780,455 L760,470 L720,490 L690,495 L650,490 L610,485 L570,470 L530,455 L510,420 L490,390 L470,370 L445,385 L420,360 L380,355 L340,345 L300,350 L270,350 L250,330 L230,310 L270,285 L200,295 L150,310 L100,325 L60,335 L40,320 L50,295 L75,265 L80,240 L60,220 L30,200 L-20,170 Z"/>
<path fill="#f03b20" d="M-20,-20 L80,-20 L90,60 L100,140 L130,200 L140,240 L100,260 L60,280 L20,300 L-20,300 Z M60,240 L110,250 L200,275 L260,270 L300,265 L340,255 L380,250 L420,235 L460,240 L500,260 L530,290 L580,300 L610,320 L640,340 L660,380 L700,400 L740,380 L838,340 L838,450 L780,455 L720,490 L650,490 L580,470 L530,455 L510,420 L490,390 L470,370 L445,385 L420,360 L380,355 L340,345 L300,350 L270,350 L250,330 L230,310 L270,285 L200,295 L150,310 L100,325 L60,335 L40,320 L50,295 Z"/>
<path fill="#7a0177" d="M240,300 L300,290 L360,300 L380,330 L330,340 L270,335 Z M380,340 L420,330 L450,360 L420,360 Z"/>
<path fill="#fd8d3c" d="M540,380 L580,330 L610,330 L640,360 L660,400 L700,420 L760,390 L838,360 L838,450 L780,455 L730,480 L670,485 L620,465 L600,440 L560,420 Z"/>
<path fill="#fff" d="M640,180 L700,120 L740,100 L745,170 L720,230 L760,240 L838,235 L838,350 L790,350 L740,390 L700,400 L660,395 L620,380 L605,340 L640,300 L700,280 L680,330 L700,360 L740,330 L750,290 L720,260 L670,260 L660,220 Z M450,170 L480,115 L500,130 L495,180 L460,190 Z M510,290 L560,250 L600,220 L640,230 L620,260 L570,290 L530,300 Z M530,195 L555,180 L570,210 L540,222 Z M580,80 L610,60 L630,100 L615,140 L590,120 Z M480,30 L520,15 L560,30 L555,55 L510,50 Z M380,22 L410,20 L412,40 L385,42 Z M100,35 L135,25 L140,40 L105,48 Z M395,240 L425,222 L432,245 L405,262 Z M360,300 L385,290 L392,318 L365,322 Z M270,500 L282,498 L284,520 L272,522 Z"/>
<path fill="#fff" stroke="#000" d="M10,160 L40,155 L52,170 L20,178 Z M-20,170 L30,200 L60,220 L80,240 L75,265 L50,295 L40,320 L20,300 L-20,310 Z"/>
<path fill="#7a0177" stroke="#000" d="M-20,310 L20,300 L40,320 L30,360 L0,390 L-20,385 Z M50,420 L80,400 L120,390 L160,380 L210,370 L240,360 L230,400 L210,420 L180,410 L130,420 L90,435 L60,440 Z M150,440 L165,420 L185,430 L190,465 L165,470 Z M165,590 L200,560 L240,520 L285,480 L295,500 L280,560 L260,600 L230,640 L200,680 L180,660 L170,620 Z M20,838 L35,760 L45,700 L55,690 L60,740 L55,790 L65,838 Z"/>
<path fill="#f03b20" d="M180,600 L195,560 L205,565 L195,610 Z M80,400 L140,385 L180,380 L150,400 L100,410 Z M30,820 L40,760 L50,770 L45,818 Z M-20,390 L10,385 L15,400 L-20,402 Z"/>
<path fill="#000" d="M40,510 L60,500 L85,520 L80,540 L55,530 Z M110,570 L140,555 L160,550 L155,575 L120,585 Z M295,95 L310,95 L315,115 L300,115 Z M660,25 L672,25 L672,38 L660,38 Z"/>
<path fill="none" stroke="#000" d="M20,400 L30,450 L70,470 M150,410 L190,420 M260,460 L300,445 L350,452 M570,505 L620,515 L680,520 L670,545"/>
</g></g>
<g clip-path="url(#c03)"><g transform="translate(52.000,619.000) scale(0.213936)"><rect x="-20" y="-20" width="858" height="858" fill="#fff"/>
</g></g>
<g clip-path="url(#c13)"><g transform="translate(227.000,619.000) scale(0.213936)"><rect x="-20" y="-20" width="858" height="858" fill="#fff"/>
<path fill="#7a0177" stroke="#000" d="M725,215 L730,130 L728,100 L740,95 L745,130 L760,120 L765,80 L775,75 L785,120 L818,120 L838,120 L838,225 L780,230 L740,230 Z"/>
<path fill="#000" d="M635,20 L645,15 L660,35 L652,45 Z M700,115 L706,115 L706,121 L700,121 Z"/>
</g></g>
<g clip-path="url(#c23)"><g transform="translate(402.000,619.000) scale(0.213936)"><rect x="-20" y="-20" width="858" height="858" fill="#fff"/>
<path fill="#fd8d3c" stroke="#000" d="M-20,120 L30,120 L60,135 L100,140 L110,165 L150,160 L200,140 L260,130 L300,125 L310,140 L350,145 L400,140 L460,130 L500,125 L510,150 L505,185 L530,180 L560,170 L600,150 L640,120 L655,110 L660,150 L650,200 L620,215 L560,225 L500,230 L450,240 L400,255 L330,270 L260,290 L250,240 L200,230 L140,225 L80,220 L40,215 L-20,220 Z"/>
<path fill="#f03b20" d="M60,180 L100,155 L150,160 L200,140 L260,130 L300,125 L310,140 L350,145 L380,160 L420,190 L400,245 L340,250 L320,220 L300,210 L280,230 L250,235 L200,200 L140,200 L90,215 Z M440,200 L460,200 L462,220 L442,222 Z"/>
<path fill="#7a0177" d="M-20,120 L30,120 L60,135 L100,140 L105,170 L70,200 L60,215 L-20,220 Z M240,200 L300,200 L300,210 L245,210 Z"/>
<path fill="#fff" d="M20,190 L45,170 L70,190 L45,212 Z M240,190 L258,185 L275,202 L255,205 Z M500,220 L525,218 L525,230 L502,230 Z"/>
<path fill="#7a0177" stroke="#000" d="M42,105 L55,92 L75,95 L82,112 L70,128 L50,125 Z"/>
<path fill="#000" d="M60,335 L80,330 L95,348 L75,355 Z M345,100 L365,95 L372,110 L350,115 Z M200,265 L215,263 L215,275 L202,275 Z M500,270 L525,268 L525,280 L502,282 Z M612,235 L630,233 L630,245 L612,247 Z M442,42 L450,42 L450,48 L442,48 Z M610,95 L622,90 L625,110 L612,112 Z M45,315 L55,315 L55,322 L45,322 Z"/>
<path fill="#fd8d3c" stroke="#000" d="M790,60 L805,40 L838,35 L838,75 L800,78 Z"/>
</g></g>
<g clip-path="url(#c33)"><g transform="translate(577.000,619.000) scale(0.213936)"><rect x="-20" y="-20" width="858" height="858" fill="#fff"/>
<path fill="#7a0177" stroke="#000" d="M35,-20 L70,-20 L80,15 L65,30 L60,45 L45,40 L38,20 Z"/>
<path fill="#fd8d3c" stroke="#000" d="M-20,40 L20,38 L15,55 L0,65 L-20,62 Z"/>
</g></g>
<clipPath id="pp1"><rect x="180.0" y="390.0" width="240.0" height="120.0"/></clipPath>
<g clip-path="url(#pp1)"><g transform="translate(180.0,390.0) scale(0.253968)"><!-- 180 390 240 120 945 -->
<rect x="-20" y="-20" width="985" height="512" fill="#fff"/>
<path fill="#f03b20" stroke="#000" d="M-20,-20 L520,-20 L525,10 L560,45 L545,70 L510,95 L476,114 L476,125 L514,130 L541,141 L574,135 L595,152 L623,162 L650,190 L671,195 L704,211 L725,227 L758,238 L790,244 L812,260 L823,292 L828,325 L835,370 L850,420 L830,440 L800,425 L770,400 L740,370 L715,345 L688,314 L671,303 L650,292 L612,287 L574,276 L541,265 L498,255 L465,244 L433,250 L400,245 L350,255 L300,270 L240,285 L213,293 L181,298 L171,266 L160,224 L139,171 L118,139 L100,140 L85,95 L50,45 L0,40 L-20,40 Z"/>
<path fill="#fd8d3c" d="M90,-20 L210,-20 L210,40 L150,60 L100,40 Z M150,60 L240,50 L260,80 L250,130 L280,170 L350,190 L330,240 L260,240 L200,220 L170,170 L150,110 Z"/>
<path fill="#7a0177" d="M370,-20 L520,-20 L525,10 L560,45 L545,70 L510,95 L476,114 L476,125 L514,130 L541,141 L574,135 L595,152 L623,162 L650,190 L671,195 L704,211 L725,227 L758,238 L790,244 L812,260 L823,292 L828,325 L835,370 L850,420 L830,440 L800,425 L770,400 L740,370 L715,345 L688,314 L671,303 L650,292 L612,287 L574,276 L541,265 L498,255 L465,244 L433,250 L400,245 L370,250 L385,200 L375,100 Z"/>
<path fill="#f03b20" d="M530,135 L563,140 L560,179 L535,170 Z M595,157 L650,170 L650,200 L600,195 Z M536,43 L563,45 L560,70 L538,68 Z M725,238 L758,238 L790,244 L812,260 L815,282 L770,275 L730,260 Z"/>
<path fill="#fff" d="M725,290 L760,276 L785,280 L780,336 L745,330 Z M405,140 L428,135 L430,155 L408,157 Z M375,165 L398,160 L400,185 L378,185 Z M415,182 L438,180 L440,200 L418,200 Z M485,197 L508,195 L510,215 L488,215 Z"/>
<path fill="#fff" stroke="#000" d="M250,215 L275,208 L292,225 L270,235 Z M85,100 L120,95 L170,110 L180,130 L140,145 L100,135 Z"/>
<path fill="#f03b20" stroke="#000" d="M568,70 L606,54 L639,51 L660,76 L682,108 L725,119 L758,135 L812,133 L834,157 L845,206 L861,238 L888,260 L920,265 L960,258 L960,300 L931,303 L893,314 L861,292 L839,260 L823,238 L801,227 L758,217 L725,206 L704,179 L671,168 L628,141 L595,114 L574,108 L541,125 L550,100 Z"/>
<path fill="#7a0177" d="M543,123 L552,100 L568,72 L606,56 L639,53 L658,78 L680,110 L700,117 L690,150 L671,166 L628,139 L595,112 L574,106 Z"/>
<path fill="#fd8d3c" d="M775,137 L810,135 L820,155 L800,170 L775,160 Z M775,195 L800,190 L810,210 L780,215 Z"/>
<path fill="#f03b20" stroke="#000" d="M250,490 L238,478 L192,430 L205,390 L213,367 L235,340 L250,320 L290,300 L350,288 L420,300 L487,309 L541,314 L585,303 L639,309 L682,325 L715,336 L736,354 L720,380 L650,400 L640,440 L680,490 Z"/>
<path fill="#7a0177" d="M240,476 L194,430 L207,390 L215,368 L240,345 L270,360 L260,420 L252,476 Z M440,310 L487,311 L541,316 L585,305 L639,311 L682,327 L713,338 L733,354 L718,378 L650,398 L638,440 L678,490 L460,490 L440,400 Z"/>
<path fill="#fd8d3c" d="M300,297 L350,290 L420,302 L430,350 L400,380 L330,370 L300,330 Z"/>
<path fill="#f03b20" d="M520,360 L600,355 L640,385 L600,400 L530,385 Z"/>
<path fill="#f03b20" stroke="#000" d="M14.6,345.7 L25.2,303.6 L43.7,298.1 L59.5,266.6 L75.6,276.8 L96.9,324.4 L117.8,356.3 L112.6,377.6 L75.6,367 L54.3,361.9 L28,356.3 Z M86.2,420.1 L101.9,411.9 L128.4,435.9 L160.3,457.1 L168.1,470.1 L144.5,483.5 L117.8,467.8 L96.9,451.6 Z M51.6,234.7 L54.3,197.6 L65,170.9 L80.7,160.6 L91.3,176.4 L86.2,202.8 L75.6,224.1 L65,239.8 Z M700,400 L725,395 L730,415 L705,420 Z M574,10 L600,0 L630,-5 L639,20 L610,40 L580,43 Z M650,10 L670,0 L682,15 L660,22 Z M877,35 L900,27 L930,70 L942,95 L920,103 L890,80 Z"/>
<path fill="#7a0177" stroke="#000" d="M693,-20 L758,-20 L750,27 L710,25 Z"/>
<path fill="#fd8d3c" d="M50,325 L80,320 L95,350 L90,367 L55,360 Z"/>
<path fill="#000" d="M95,205 L108,200 L112,215 L98,220 Z M112,230 L125,226 L128,240 L115,244 Z M128,212 L138,210 L140,222 L130,224 Z M650,390 L670,385 L680,400 L660,410 Z M690,420 L710,415 L715,430 L695,435 Z M660,430 L680,428 L682,445 L662,447 Z M790,15 L805,11 L812,35 L795,38 Z"/>
<path fill="none" stroke="#000" d="M200,-5 L230,30 L290,10 M220,60 L240,100 L250,140 L270,170 L280,180 L360,190 L350,220 L340,260 M300,60 L380,20 L400,-5 M390,20 L430,60 L470,80 L520,80 L560,60 M433,32 L487,65 L568,70 M250,320 L260,380 L300,420 L340,440 L350,490 M430,350 L400,380 L380,420"/>
</g></g>
<clipPath id="pp2"><rect x="150.0" y="200.0" width="160.0" height="130.0"/></clipPath>
<g clip-path="url(#pp2)"><g transform="translate(150.0,200.0) scale(0.169312)"><!-- 150 200 160 130 945 -->
<rect x="-20" y="-20" width="985" height="808" fill="#f03b20"/>
<path fill="#fd8d3c" d="M-20,-20 L145,-20 L150,40 L135,150 L140,250 L155,300 L100,330 L150,345 L175,400 L190,440 L195,500 L210,540 L190,600 L140,640 L180,690 L240,700 L260,788 L-20,788 Z M865,-20 L985,-20 L985,100 L900,100 L880,60 Z M720,290 L780,270 L830,290 L800,340 L740,350 Z M465,100 L490,45 L520,50 L515,100 L480,135 Z M600,470 L640,420 L700,380 L760,360 L800,330 L850,300 L900,270 L985,265 L985,788 L880,788 L850,700 L800,620 L740,580 L680,560 L620,520 Z"/>
<path fill="#f03b20" d="M640,400 L700,370 L750,400 L740,460 L680,480 L630,460 Z M700,480 L780,460 L850,470 L985,500 L985,540 L880,560 L830,600 L760,560 L720,530 Z M100,290 L150,300 L160,350 L120,360 Z M200,560 L250,580 L280,640 L300,720 L270,788 L230,788 L220,700 L180,640 Z"/>
<path fill="#7a0177" d="M430,200 L480,180 L520,160 L560,195 L580,260 L640,290 L700,300 L700,330 L640,370 L600,400 L570,460 L545,480 L560,540 L620,580 L660,640 L700,700 L730,788 L250,788 L270,700 L300,660 L250,640 L240,600 L260,540 L330,560 L380,520 L430,500 L440,460 L450,420 L440,330 L450,260 Z M730,140 L800,100 L860,80 L880,120 L860,160 L900,200 L880,240 L830,230 L790,190 L740,160 Z"/>
<path fill="#addd8e" d="M10,520 L40,500 L60,540 L50,600 L25,600 Z"/>
<path fill="#fff" d="M130,60 L175,60 L200,20 L250,-20 L280,-20 L250,40 L210,90 L200,160 L240,200 L260,230 L240,280 L200,310 L180,280 L160,230 L170,170 L140,150 L120,80 Z M380,130 L420,120 L435,160 L420,200 L395,190 Z M380,15 L430,15 L440,40 L400,45 Z M355,450 L390,445 L400,480 L410,540 L385,555 L365,510 Z M300,350 L320,345 L325,375 L305,378 Z M405,410 L425,408 L428,440 L410,445 Z M250,490 L280,500 L290,540 L265,545 Z M130,330 L165,320 L175,370 L160,400 L140,390 Z M20,150 L50,155 L60,195 L35,200 Z M20,420 L40,420 L40,440 L22,440 Z M140,520 L170,510 L180,570 L150,580 Z M140,640 L180,630 L200,680 L175,690 Z M470,290 L500,285 L490,310 Z M520,120 L545,125 L540,145 L525,145 Z M590,240 L625,235 L620,255 L595,255 Z M440,590 L470,590 L465,610 L445,608 Z M580,710 L610,705 L605,725 L585,725 Z M640,720 L690,700 L680,740 L630,760 Z M610,590 L640,580 L660,640 L640,660 L615,630 Z M555,450 L585,440 L590,480 L560,490 Z M700,600 L722,598 L720,625 L702,625 Z M95,15 L110,15 L110,30 L95,30 Z M900,520 L945,505 L945,540 L910,545 Z"/>
<path fill="#fff" stroke="#000" d="M205,405 L245,400 L260,420 L255,500 L220,510 L205,470 Z M295,470 L330,455 L355,480 L360,530 L340,560 L310,555 L295,510 Z M850,788 L840,700 L860,640 L880,600 L920,580 L945,550 L985,550 L985,788 Z"/>
<path fill="#000" d="M212,180 L228,168 L235,180 L220,192 Z M502,605 L518,600 L520,618 L505,622 Z M418,642 L435,640 L440,660 L420,665 Z"/>
<path fill="none" stroke="#000" d="M145,-10 L160,40 L150,100 L145,170 L140,250 L160,300 L150,350 L170,400 L195,430 L210,500 L260,510 L300,500 L350,510 L400,500 L440,490 L490,490 L540,475 L560,470 L600,400 L650,370 L700,360 L760,360 L800,350 L840,330 L855,310 L860,270 L985,265 M860,-10 L870,40 L900,90 L910,150 L915,200 L910,270 M350,510 L340,560 L345,600 L320,660 L280,700 L260,788 M545,490 L560,540 L600,590 L640,650 L690,700 L720,788"/>
</g></g>
<clipPath id="pp3"><rect x="470.0" y="395.0" width="130.0" height="80.0"/></clipPath>
<g clip-path="url(#pp3)"><g transform="translate(470.0,395.0) scale(0.137566)"><!-- 470 395 130 80 945 -->
<rect x="-20" y="-20" width="985" height="622" fill="#fff"/>
<path fill="#f03b20" stroke="#000" d="M500,-20 L480,15 L440,40 L430,60 L460,100 L500,130 L540,160 L600,150 L630,150 L620,180 L560,200 L490,220 L470,230 L440,200 L420,150 L390,100 L340,80 L300,90 L290,150 L320,200 L300,250 L290,290 L330,320 L380,340 L420,355 L450,330 L480,300 L500,300 L540,350 L600,370 L660,380 L700,400 L710,450 L720,500 L700,530 L660,520 L640,495 L600,500 L540,500 L480,520 L450,560 L450,620 L965,620 L965,-20 Z"/>
<path fill="#fd8d3c" d="M305,92 L340,82 L390,102 L420,150 L440,200 L468,232 L458,280 L420,352 L380,338 L332,318 L293,288 L302,250 L322,200 L293,150 Z M510,70 L540,80 L600,130 L650,140 L660,180 L620,190 L570,140 L520,110 Z"/>
<path fill="#f03b20" d="M305,95 L340,85 L350,120 L335,170 L310,150 Z"/>
<path fill="#7a0177" d="M910,230 L945,210 L965,210 L965,520 L930,500 L905,400 L900,300 Z"/>
<path fill="#fff" d="M590,150 L640,140 L665,160 L640,190 L600,185 Z M690,30 L730,35 L725,52 L692,48 Z M560,62 L580,62 L578,80 L562,80 Z M830,80 L850,80 L850,95 L830,95 Z M740,380 L755,380 L755,395 L740,395 Z M770,480 L790,480 L790,495 L770,495 Z"/>
<path fill="#fd8d3c" stroke="#000" d="M95,170 L150,150 L210,160 L220,200 L230,250 L210,300 L200,360 L170,370 L130,330 L150,280 L130,230 L100,200 Z"/>
<path fill="#000" d="M432,135 L450,130 L462,175 L445,182 Z M-20,170 L12,172 L14,205 L-20,210 Z"/>
<path fill="none" stroke="#000" d="M285,75 L272,110 L285,160 M255,285 L262,340 L300,380"/>
</g></g>
</g></svg>
<rect x="52.5" y="94.5" width="693" height="693" fill="none" stroke="#000" stroke-width="1.2"/>
</svg>
</body></html>
